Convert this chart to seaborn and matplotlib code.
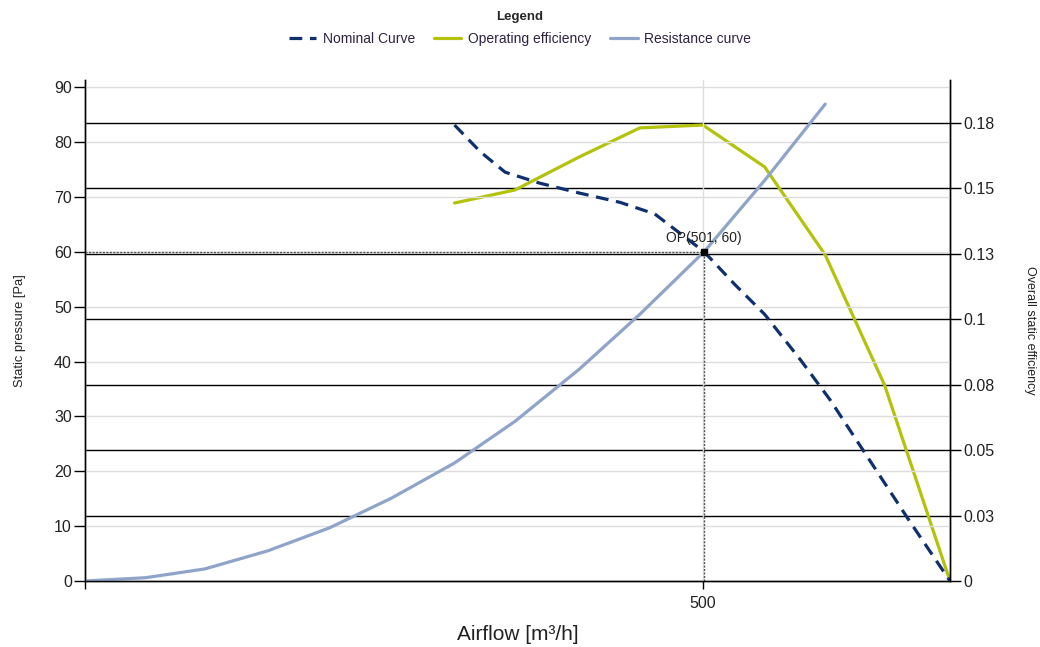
import numpy as np
import pandas as pd
import matplotlib
matplotlib.use("Agg")
import matplotlib.pyplot as plt
import seaborn as sns

# values
nominal_flow = [299, 320, 340, 368, 400, 433, 461, 501, 526, 550, 579, 603, 635, 667, 700]
nominal_pressure = [83.1, 78.2, 74.5, 72.5, 70.7, 69.0, 66.9, 60.0, 54.0, 48.6, 40.3, 33.0, 22.0, 11.0, 0.0]

eff_flow = [299, 348, 400, 449, 500, 550, 599, 647, 700]
eff_values = [0.1444, 0.1494, 0.162, 0.1731, 0.1742, 0.1582, 0.1246, 0.0749, 0.0]

resistance_flow = [0, 49, 97, 148, 198, 248, 299, 348, 400, 449, 501, 550, 599]
resistance_pressure = [0, 0.6, 2.2, 5.5, 9.7, 15.1, 21.5, 29.1, 38.6, 48.6, 60.0, 73.0, 86.9]

op_flow, op_pressure = 501, 60

left_ticks = [0, 10, 20, 30, 40, 50, 60, 70, 80, 90]
right_ticks = [0, 0.025, 0.05, 0.075, 0.1, 0.125, 0.15, 0.175]
right_labels = ["0", "0.03", "0.05", "0.08", "0.1", "0.13", "0.15", "0.18"]
x_ticks = [0, 500]
x_labels = ["", "500"]

c_nominal = "#0f2f6e"
c_eff = "#b3c20a"
c_res = "#8fa4c8"
txt = "#222222"

sns.set_style("white")
plt.rcParams["font.family"] = ["Liberation Sans", "DejaVu Sans"]

fig = plt.figure(figsize=(10.4, 6.47), dpi=100)
ax = fig.add_axes([85 / 1040, 66 / 647, 865 / 1040, 501 / 647])
ax2 = ax.twinx()
ax.set_zorder(ax2.get_zorder() + 1)
ax.patch.set_visible(False)

nom = pd.DataFrame({"flow": nominal_flow, "p": nominal_pressure})
res = pd.DataFrame({"flow": resistance_flow, "p": resistance_pressure})
eff = pd.DataFrame({"flow": eff_flow, "e": eff_values})

sns.lineplot(data=res, x="flow", y="p", ax=ax, color=c_res, lw=2.3, sort=False,
             label="Resistance curve", legend=False)
sns.lineplot(data=nom, x="flow", y="p", ax=ax, color=c_nominal, lw=2.3, sort=False,
             label="Nominal Curve", legend=False)
ax.lines[-1].set_dashes([4, 2.4])
sns.lineplot(data=eff, x="flow", y="e", ax=ax2, color=c_eff, lw=2.3, sort=False,
             label="Operating efficiency", legend=False)

# operating point
ax.plot([0, op_flow], [op_pressure, op_pressure], ls=(0, (1.5, 1)), color="#555555", lw=1, zorder=1)
ax.plot([op_flow, op_flow], [0, op_pressure], ls=(0, (1.5, 1)), color="#555555", lw=1, zorder=1)
ax.plot([op_flow], [op_pressure], marker="s", ms=4, color="black", zorder=5)
ax.annotate(f"OP({op_flow}, {op_pressure})", (op_flow, op_pressure), xytext=(0, 5),
            textcoords="offset points", ha="center", va="bottom", fontsize=10, color=txt)

ax.set_xlim(0, 700)
ax.set_ylim(0, 91.3)
ax2.set_ylim(0, 0.1914)

ax.set_yticks(left_ticks)
ax.set_xticks(x_ticks)
ax.set_xticklabels(x_labels)
ax2.set_yticks(right_ticks)
ax2.set_yticklabels(right_labels)

ax.grid(True, color="#dddddd", lw=1)
ax2.grid(False)
for v in right_ticks[1:]:
    ax2.axhline(v, color="black", lw=1, zorder=0)

for a in (ax, ax2):
    a.spines["top"].set_visible(False)
    for s in ("left", "right", "bottom"):
        a.spines[s].set_color("black")
        a.spines[s].set_linewidth(1)
    a.tick_params(direction="out", length=8, width=1, colors="black",
                  labelcolor=txt, labelsize=11.5, pad=1.5)
ax.tick_params(axis="y", left=True)
ax.tick_params(axis="x", bottom=True, length=6, pad=5)
ax2.tick_params(axis="y", right=True)

ax.set_xlabel("Airflow [m³/h]", fontsize=15, color=txt, labelpad=10)
ax.set_ylabel("Static pressure [Pa]", fontsize=9.3, color=txt, labelpad=20)
ax2.set_ylabel("Overall static efficiency", fontsize=9, color=txt, rotation=270, labelpad=30)

handles = [ax.lines[1], ax2.lines[0], ax.lines[0]]
labels = ["Nominal Curve", "Operating efficiency", "Resistance curve"]
leg = fig.legend(handles, labels, loc="upper center", bbox_to_anchor=(0.5, 1.003), ncol=3,
                 frameon=False, fontsize=10, title="Legend", handlelength=2.0,
                 columnspacing=1.3, handletextpad=0.5, labelspacing=0.2)
leg.get_title().set_fontweight("bold")
leg.get_title().set_fontsize(9.5)
leg._legend_box.sep = 7
for t in leg.get_texts():
    t.set_color("#2e2240")

fig.savefig("out.png", dpi=100)
